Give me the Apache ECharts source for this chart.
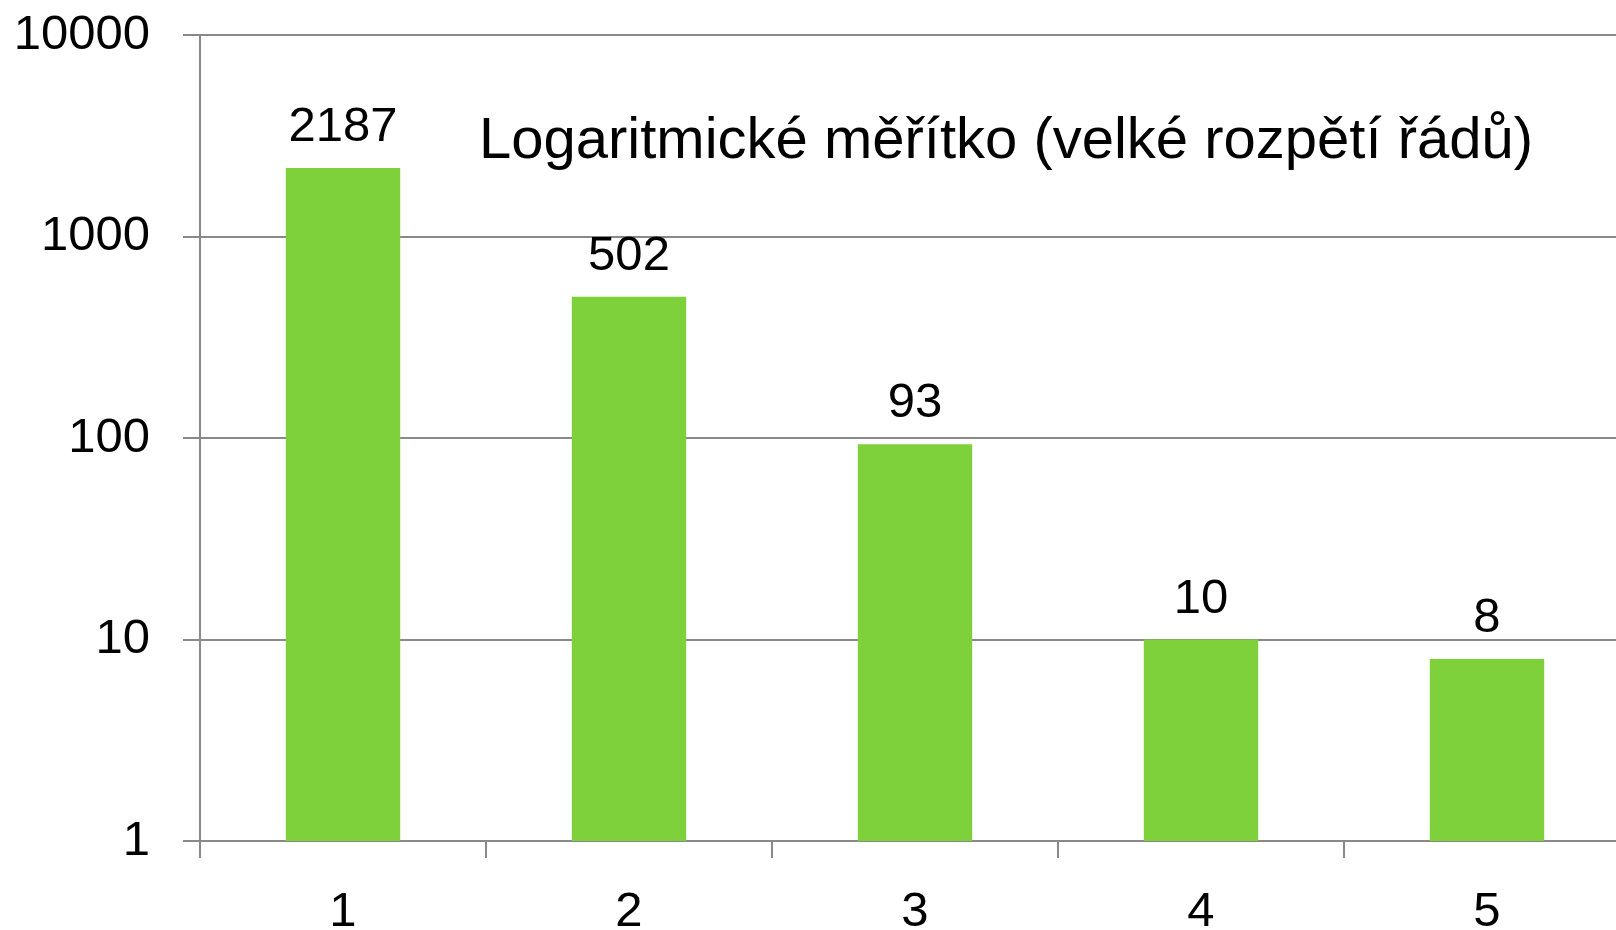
<!DOCTYPE html>
<html>
<head>
<meta charset="utf-8">
<script src="https://cdn.jsdelivr.net/npm/echarts@6/dist/echarts.min.js"></script>
<style>
html,body{margin:0;padding:0;background:#fff;}
#chart{width:1616px;height:930px;}
</style>
</head>
<body>
<div id="chart"></div>
<script>
const categories = ['1', '2', '3', '4', '5'];
const values = [2187, 502, 93, 10, 8];
const titleText = 'Logaritmické měřítko (velké rozpětí řádů)';

const FONT = '"Liberation Sans", Arial, sans-serif';
const chart = echarts.init(document.getElementById('chart'), null, {renderer: 'canvas'});
chart.setOption({
  animation: false,
  backgroundColor: '#ffffff',
  title: {
    text: titleText,
    left: 474,
    top: 108,
    textStyle: {fontFamily: FONT, fontSize: 58, fontWeight: 'normal', color: '#000'}
  },
  grid: {left: 200, right: -14, top: 35, bottom: 89, containLabel: false, outerBoundsMode: 'none'},
  xAxis: {
    type: 'category',
    data: categories,
    boundaryGap: true,
    axisLine: {lineStyle: {color: '#898989', width: 2}},
    axisTick: {show: true, length: 17, lineStyle: {color: '#898989', width: 2}},
    axisLabel: {fontFamily: FONT, fontSize: 49, color: '#000', margin: 47}
  },
  yAxis: {
    type: 'log',
    logBase: 10,
    min: 1,
    max: 10000,
    axisLine: {show: true, lineStyle: {color: '#898989', width: 2}},
    axisTick: {show: true, length: 17, lineStyle: {color: '#898989', width: 2}},
    splitLine: {show: true, lineStyle: {color: '#898989', width: 2}},
    axisLabel: {fontFamily: FONT, fontSize: 49, color: '#000', margin: 50,
      formatter: function (v) { return String(Math.round(v)); }}
  },
  series: [{
    type: 'bar',
    data: values,
    barWidth: '40%',
    itemStyle: {color: '#7fd13b'},
    label: {show: true, position: 'top', distance: 16, fontFamily: FONT, fontSize: 49, color: '#000'}
  }]
});
</script>
</body>
</html>
